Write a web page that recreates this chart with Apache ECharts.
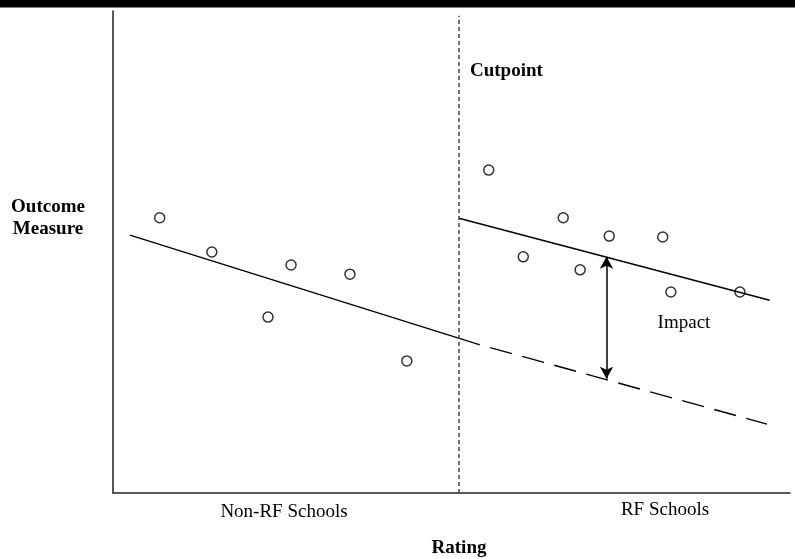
<!DOCTYPE html>
<html>
<head>
<meta charset="utf-8">
<script src="https://cdn.jsdelivr.net/npm/echarts@6/dist/echarts.min.js"></script>
<style>
html,body{margin:0;padding:0;background:#fff;}
#chart{width:795px;height:559px;}
</style>
</head>
<body>
<div id="chart"></div>
<script>
// Rating (x) and Outcome (y) values (arbitrary 0-100 units)
var nonRFPoints = [[6.9,57.1],[14.6,50.0],[22.9,36.5],[26.3,47.3],[35.0,45.4],[43.4,27.4]];
var rfPoints = [[55.5,67.0],[60.6,49.0],[66.5,57.1],[69.0,46.3],[73.3,53.3],[81.2,53.1],[82.4,41.7],[92.6,41.7]];
var cutpoint = 51.1;
var nonRFLine = [[2.5,53.5],[54.1,30.8]];
var counterfactualLine = [[54.1,30.8],[96.6,14.3]];
var rfLine = [[51.1,57.0],[97.0,40.0]];
var impactArrow = [[72.9,23.7],[72.9,49.0]];
var cutpointSpan = [0, 99];

var serif = '"Liberation Serif", "Times New Roman", serif';
var chart = echarts.init(document.getElementById('chart'), null, {renderer:'canvas'});
var axisCommon = {
  type:'value', min:0, max:100,
  axisTick:{show:false}, axisLabel:{show:false}, splitLine:{show:false},
  axisLine:{show:true, lineStyle:{color:'#222', width:1.5}}
};
chart.setOption({
  animation:false,
  backgroundColor:'#fff',
  grid:{left:113, right:5, top:11, bottom:66},
  xAxis: Object.assign({}, axisCommon),
  yAxis: Object.assign({}, axisCommon),
  graphic:[
    {type:'rect', left:0, top:0, shape:{x:0,y:0,width:795,height:7.5}, style:{fill:'#000'}},
    {type:'text', x:48, y:207, style:{text:'Outcome', font:'bold 19px '+serif, fill:'#000', textAlign:'center', textVerticalAlign:'middle'}},
    {type:'text', x:48, y:229, style:{text:'Measure', font:'bold 19px '+serif, fill:'#000', textAlign:'center', textVerticalAlign:'middle'}},
    {type:'text', x:470, y:71, style:{text:'Cutpoint', font:'bold 19px '+serif, fill:'#000', textAlign:'left', textVerticalAlign:'middle'}},
    {type:'text', x:684, y:323, style:{text:'Impact', font:'19px '+serif, fill:'#000', textAlign:'center', textVerticalAlign:'middle'}},
    {type:'text', x:284, y:512, style:{text:'Non-RF Schools', font:'19px '+serif, fill:'#000', textAlign:'center', textVerticalAlign:'middle'}},
    {type:'text', x:665, y:510, style:{text:'RF Schools', font:'19px '+serif, fill:'#000', textAlign:'center', textVerticalAlign:'middle'}},
    {type:'text', x:459, y:548, style:{text:'Rating', font:'bold 19px '+serif, fill:'#000', textAlign:'center', textVerticalAlign:'middle'}}
  ],
  series:[
    {type:'line', data:nonRFLine, symbol:'none', lineStyle:{color:'#000', width:1.4}, silent:true,
     markLine:{silent:true, symbol:['none','none'], label:{show:false},
       lineStyle:{color:'#444', width:1.5, type:[4,3]},
       data:[[{coord:[cutpoint, cutpointSpan[0]]},{coord:[cutpoint, cutpointSpan[1]]}]]}},
    {type:'line', data:counterfactualLine, symbol:'none', lineStyle:{color:'#000', width:1.4, type:[22.5,10.7], dashOffset:21.8}, silent:true},
    {type:'line', data:rfLine, symbol:'none', lineStyle:{color:'#000', width:1.4}, silent:true,
     markLine:{silent:true, symbol:['arrow','arrow'], symbolSize:[10,12], label:{show:false},
       lineStyle:{color:'#000', width:1.5, type:'solid'},
       data:[[{coord:impactArrow[0]},{coord:impactArrow[1]}]]}},
    {type:'scatter', data:nonRFPoints, symbol:'circle', symbolSize:10,
     itemStyle:{color:'#fff', borderColor:'#000', borderWidth:1.5}, silent:true, z:5},
    {type:'scatter', data:rfPoints, symbol:'circle', symbolSize:10,
     itemStyle:{color:'rgba(255,255,255,0)', borderColor:'#000', borderWidth:1.5}, silent:true, z:5}
  ]
});
</script>
</body>
</html>
